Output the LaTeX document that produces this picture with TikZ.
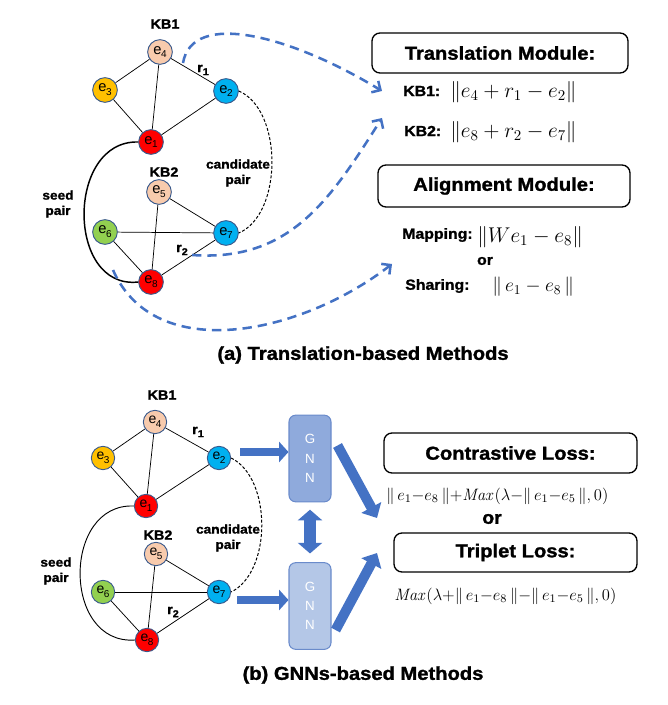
\RequirePackage{fix-cm}
\documentclass[tikz,border=0pt]{standalone}
\usepackage[no-math]{fontspec}
\setmainfont{Liberation Sans}
\newfontfamily\blk{Liberation Sans}[FakeStretch=1.08, BoldFeatures={FakeBold=1.4}]
\usetikzlibrary{arrows.meta}
\definecolor{cRed}{HTML}{FF0000}
\definecolor{cCyan}{HTML}{00B0F0}
\definecolor{cGold}{HTML}{FFC000}
\definecolor{cPeach}{HTML}{F8CBAD}
\definecolor{cGreen}{HTML}{92D050}
\definecolor{cBorder}{HTML}{3A5A8C}
\definecolor{cBlue}{HTML}{4472C4}
\definecolor{cGnnA}{HTML}{8FAADC}
\definecolor{cGnnB}{HTML}{B4C7E7}
\definecolor{cGnnD}{HTML}{6A8BCB}
\newcommand\en[1]{e\kern-0.03em\raisebox{-0.5ex}{\fontsize{7.5}{7.5}\selectfont #1}}
\newcommand\rr[1]{r\raisebox{-0.45ex}{\fontsize{7.5}{7.5}\selectfont #1}}
\tikzset{
  ent/.style={circle, draw=cBorder, line width=0.7pt, minimum size=18.5pt, inner sep=0pt, font=\fontsize{11}{11}\selectfont},
  ents/.style={ent, minimum size=17.5pt, font=\fontsize{10.5}{10.5}\selectfont},
  edge/.style={line width=0.55pt},
  seedline/.style={line width=1.1pt},
  seedthin/.style={line width=0.7pt},
  cand/.style={line width=0.75pt, dash pattern=on 2.2pt off 1.4pt},
  bdash/.style={draw=cBlue, line width=1.9pt, dash pattern=on 7pt off 4.5pt, -{Straight Barb[length=5pt,width=10pt]}},
  lbl/.style={font=\blk\bfseries\fontsize{10}{11}\selectfont, inner sep=0pt, align=center},
  lbls/.style={font=\blk\bfseries\fontsize{9.5}{11.5}\selectfont, inner sep=0pt, align=center},
  lblm/.style={font=\blk\bfseries\fontsize{11}{13}\selectfont, inner sep=0pt},
  titlebox/.style={draw, rounded corners=6pt, line width=1pt, font=\blk\bfseries\fontsize{14}{16}\selectfont, inner sep=0pt},
  captionf/.style={font=\blk\bfseries\fontsize{14}{16}\selectfont, inner sep=0pt},
  mathA/.style={font=\fontsize{16}{18}\selectfont, inner sep=0pt},
  mathB/.style={font=\fontsize{14.5}{16}\selectfont, inner sep=0pt},
  mathC/.style={font=\fontsize{12.4}{14}\selectfont, inner sep=0pt},
  gnn/.style={draw=cGnnD, line width=0.8pt, rounded corners=5pt, minimum width=31.5pt, minimum height=65pt, inner sep=0pt, text=white, align=center, font=\fontsize{10}{14.5}\selectfont},
  barrow/.style={draw=cBlue, line width=6.5pt, -{Triangle[width=15pt,length=7pt]}},
  darrow/.style={draw=cBlue, line width=7.5pt, -{Triangle[width=16.5pt,length=9pt]}},
  dbarrow/.style={draw=cBlue, line width=8.5pt, {Triangle[width=18pt,length=8pt]}-{Triangle[width=18pt,length=8pt]}, shorten <=5.5pt, shorten >=6.5pt},
}
\begin{document}
\begin{tikzpicture}[x=0.75pt,y=-0.75pt]
\path[use as bounding box] (0,0) rectangle (667,705);

% ===== (a) top graph =====
\node[ent, fill=cPeach] (e4) at (160,52) {\en{4}};
\node[ent, fill=cGold]  (e3) at (105,90) {\en{3}};
\node[ent, fill=cCyan]  (e2) at (226,91) {\en{2}};
\node[ent, fill=cRed]   (e1) at (151,142) {\en{1}};
\node[ent, fill=cPeach] (e5) at (159,192) {\en{5}};
\node[ent, fill=cGreen] (e6) at (105,232) {\en{6}};
\node[ent, fill=cCyan]  (e7) at (226,233) {\en{7}};
\node[ent, fill=cRed]   (e8) at (151,282) {\en{8}};
\draw[edge] (e4) -- (e3);
\draw[edge] (e4) -- (e2);
\draw[edge] (e4) -- (e1);
\draw[edge] (e3) -- (e1);
\draw[edge] (e2) -- (e1);
\draw[edge] (e5) -- (e7);
\draw[edge] (e5) -- (e8);
\draw[edge] (e6) -- (e7);
\draw[edge] (e6) -- (e8);
\draw[edge] (e7) -- (e8);
\draw[seedline] (e1.west) .. controls (66,140) and (66,290) .. (e8.west);
\draw[cand] (e2.east) .. controls (283,110) and (283,214) .. (e7.east);
\node[lbl] (kbA1) at (165,24) {KB1};
\node[lbl] (kbA2) at (164,172) {KB2};
\node[lbl] (rA1) at (203,70) {\rr{1}};
\node[lbl] (rA2) at (182,250) {\rr{2}};
\node[lbls] (candA) at (238,173) {candidate\\pair};
\node[lbls] (seedA) at (58,204) {seed\\pair};

% ===== (a) right side =====
\node[titlebox, minimum width=192pt, minimum height=30pt] (trans) at (500,53) {Translation Module:};
\node[lblm, anchor=west] (kbT1) at (403,91) {KB1:};
\node[mathA, anchor=west] (fT1) at (450,92) {$\|e_4+r_1-e_2\|$};
\node[lblm, anchor=west] (kbT2) at (404,131) {KB2:};
\node[mathA, anchor=west] (fT2) at (450,132) {$\|e_8+r_2-e_7\|$};
\node[titlebox, minimum width=189pt, minimum height=31.5pt] (align) at (504,186) {Alignment Module:};
\node[lblm, anchor=west] (mapT) at (402,235) {Mapping:};
\node[mathA, anchor=west] (fMap) at (477,237) {$\|We_1-e_8\|$};
\node[lblm] (orA) at (485,261) {or};
\node[lblm, anchor=west] (shT) at (405,286) {Sharing:};
\node[mathB, anchor=west] (fSh) at (492,287) {$\|\,e_1-e_8\,\|$};

% dashed blue arrows
\coordinate (d1s) at (183,63);
\coordinate (d1e) at (382,91);
\coordinate (d2s) at (192,255);
\coordinate (d2e) at (382,118);
\coordinate (d3s) at (113,270);
\coordinate (d3e) at (392,264);
\draw[bdash] (d1s) .. controls (192,10) and (290,35) .. (d1e);
\draw[bdash] (d2s) .. controls (290,262) and (330,200) .. (d2e);
\draw[bdash] (d3s) .. controls (155,365) and (300,335) .. (d3e);

\node[captionf] (capA) at (363,355) {(a) Translation-based Methods};

% ===== (b) bottom graph =====
\node[ents, fill=cPeach] (b4) at (155,422) {\en{4}};
\node[ents, fill=cGold]  (b3) at (103,458) {\en{3}};
\node[ents, fill=cCyan]  (b2) at (219,458) {\en{2}};
\node[ents, fill=cRed]   (b1) at (146,506) {\en{1}};
\node[ents, fill=cPeach] (b5) at (156,554) {\en{5}};
\node[ents, fill=cGreen] (b6) at (103,592) {\en{6}};
\node[ents, fill=cCyan]  (b7) at (219,592) {\en{7}};
\node[ents, fill=cRed]   (b8) at (147,640) {\en{8}};
\draw[edge] (b4) -- (b3);
\draw[edge] (b4) -- (b2);
\draw[edge] (b4) -- (b1);
\draw[edge] (b3) -- (b1);
\draw[edge] (b2) -- (b1);
\draw[edge] (b5) -- (b7);
\draw[edge] (b5) -- (b8);
\draw[edge] (b6) -- (b7);
\draw[edge] (b6) -- (b8);
\draw[edge] (b7) -- (b8);
\draw[seedthin] (b1.west) .. controls (62,503) and (62,645) .. (b8.west);
\draw[cand] (b2.east) .. controls (272,478) and (272,572) .. (b7.east);
\node[lbl] (kbB1) at (162,395) {KB1};
\node[lbl] (kbB2) at (158,535) {KB2};
\node[lbl] (rB1) at (198,432) {\rr{1}};
\node[lbl] (rB2) at (173,612) {\rr{2}};
\node[lbls] (candB) at (228,538) {candidate\\pair};
\node[lbls] (seedB) at (56,571) {seed\\pair};

% GNN blocks
\node[gnn, fill=cGnnA] (g1) at (310,458.5) {G\\N\\N};
\node[gnn, fill=cGnnB] (g2) at (310,606) {G\\N\\N};
\coordinate (a1) at ([shift={(9,-6)}]b2.east);
\coordinate (a2) at ([shift={(6,8)}]b7.east);
\draw[barrow] (a1) -- (a1 -| g1.west);
\draw[barrow] (a2) -- (a2 -| g2.west);
\draw[dbarrow] (g1.south) -- (g2.north);
\coordinate (a3) at ([shift={(6,-13)}]g1.east);
\coordinate (a4) at ([shift={(4,24)}]g2.east);
\coordinate (l1) at (377,518);
\coordinate (l2) at (377,553);
\draw[darrow] (a3) -- (l1);
\draw[darrow] (a4) -- (l2);

% losses
\node[titlebox, minimum width=189.75pt, minimum height=30pt] (contr) at (510.5,453) {Contrastive Loss:};
\node[mathC, anchor=west] (fC) at (386,496) {\medmuskip=0mu $\|\,e_1-e_8\,\|+\mathit{Max}(\lambda-\|\,e_1-e_5\,\|,0)$};
\node[font=\blk\bfseries\fontsize{13.5}{15}\selectfont, inner sep=0pt] (orB) at (492,519) {or};
\node[titlebox, minimum width=182.25pt, minimum height=29.25pt] (trip) at (515.5,552.5) {Triplet Loss:};
\node[mathC, anchor=west] (fTr) at (394,596) {\medmuskip=0mu $\mathit{Max}(\lambda+\|\,e_1-e_8\,\|-\|\,e_1-e_5\,\|,0)$};

\node[captionf] (capB) at (363,675) {(b) GNNs-based Methods};
\end{tikzpicture}
\end{document}
